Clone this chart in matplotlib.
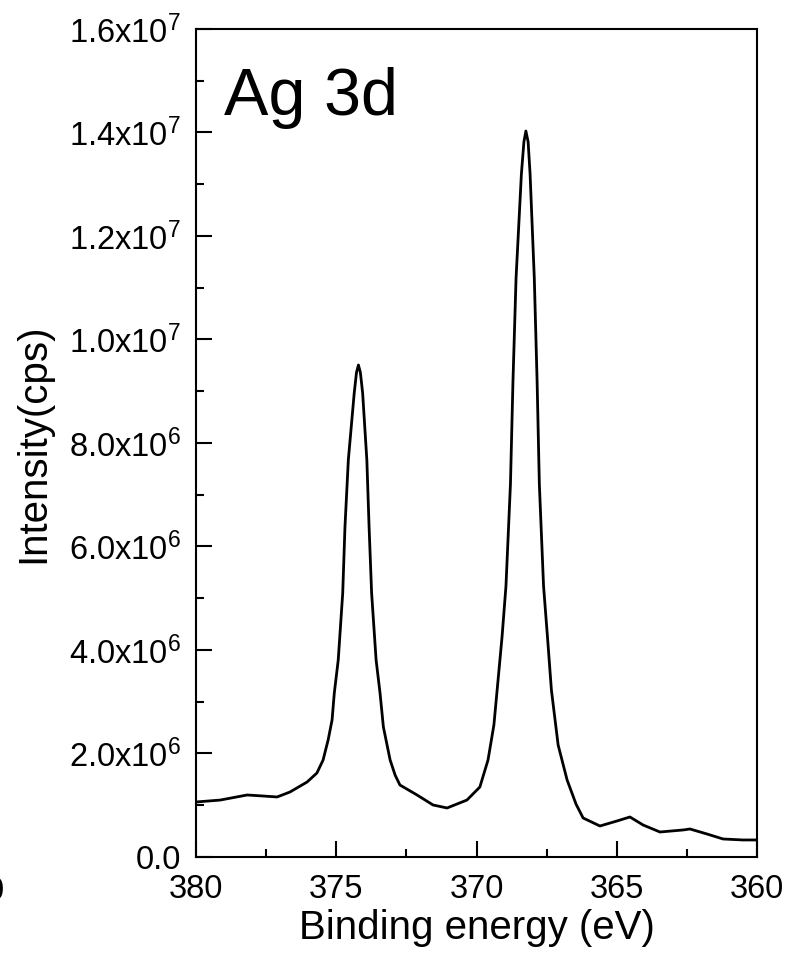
import numpy as np
import matplotlib
matplotlib.use("Agg")
import matplotlib.pyplot as plt
from matplotlib.ticker import MultipleLocator, FixedLocator, FixedFormatter

plt.rcParams["font.family"] = ["Liberation Sans", "DejaVu Sans"]
plt.rcParams["mathtext.fontset"] = "custom"
plt.rcParams["mathtext.rm"] = "Liberation Sans"
plt.rcParams["mathtext.it"] = "Liberation Sans"

# Ag 3d spectrum, binding energy (eV) vs intensity (1e6 cps)
energy = [380.00, 379.14, 378.18, 377.65, 377.11, 376.65, 376.04, 375.69,
          375.47, 375.29, 375.15, 375.07, 374.93, 374.77, 374.69, 374.57,
          374.36, 374.28, 374.21, 374.14, 374.06, 373.91, 373.83, 373.74,
          373.58, 373.44, 373.32, 373.08, 372.90, 372.73, 372.12, 371.55,
          371.05, 370.34, 369.88, 369.59, 369.38, 369.09, 368.95, 368.79,
          368.70, 368.59, 368.40, 368.31, 368.24, 368.16, 368.09, 367.94,
          367.84, 367.76, 367.61, 367.47, 367.33, 367.09, 366.77, 366.45,
          366.20, 365.60, 364.99, 364.53, 364.06, 363.46, 362.64, 362.39,
          361.78, 361.21, 360.50, 360.00]
intensity = [1.063, 1.10, 1.198, 1.18, 1.16, 1.256, 1.449, 1.623,
             1.874, 2.261, 2.647, 3.169, 3.807, 5.102, 6.377, 7.672,
             8.966, 9.36, 9.507, 9.36, 8.966, 7.672, 6.377, 5.102,
             3.807, 3.169, 2.512, 1.874, 1.58, 1.391, 1.198, 1.005,
             0.947, 1.101, 1.353, 1.874, 2.551, 4.251, 5.237, 7.208,
             9.198, 11.189, 13.198, 13.82, 14.029, 13.82, 13.198, 11.189,
             9.198, 7.208, 5.237, 4.251, 3.227, 2.164, 1.488, 1.02,
             0.754, 0.599, 0.696, 0.773, 0.618, 0.483, 0.522, 0.541,
             0.444, 0.348, 0.329, 0.329]

ytick_vals = [0, 2e6, 4e6, 6e6, 8e6, 1e7, 1.2e7, 1.4e7, 1.6e7]
ytick_labels = ["0.0", "2.0x10$^{6}$", "4.0x10$^{6}$", "6.0x10$^{6}$",
                "8.0x10$^{6}$", "1.0x10$^{7}$", "1.2x10$^{7}$",
                "1.4x10$^{7}$", "1.6x10$^{7}$"]

fig = plt.figure(figsize=(7.86, 9.57), dpi=100)
ax = fig.add_axes([0.2494, 0.1045, 0.7137, 0.8652])

ax.plot(energy, np.array(intensity) * 1e6, color="black", lw=2.0,
        solid_joinstyle="round")

ax.set_xlim(380, 360)
ax.set_ylim(0, 1.6e7)
ax.xaxis.set_major_locator(MultipleLocator(5))
ax.xaxis.set_minor_locator(MultipleLocator(2.5))
ax.yaxis.set_major_locator(FixedLocator(ytick_vals))
ax.yaxis.set_major_formatter(FixedFormatter(ytick_labels))
ax.yaxis.set_minor_locator(MultipleLocator(1e6))

ax.tick_params(which="both", direction="in", top=False, right=False,
               width=1.5, labelsize=23.5)
ax.tick_params(which="major", length=11.5)
ax.tick_params(which="minor", length=5.8)
ax.tick_params(axis="x", pad=12)
ax.tick_params(axis="y", pad=11)
for s in ax.spines.values():
    s.set_linewidth(1.5)

ax.set_xlabel("Binding energy (eV)", fontsize=29, labelpad=3)
ax.set_ylabel("Intensity(cps)", fontsize=29, labelpad=12)

ax.text(0.05, 0.896, "Ag 3d", transform=ax.transAxes, fontsize=48,
        ha="left", va="baseline")

# stray digit from the neighbouring panel at the left edge
fig.text(4 / 786, 1 - 900 / 957, "0", fontsize=23.5, ha="right", va="baseline")

fig.savefig("out.png", dpi=100)
